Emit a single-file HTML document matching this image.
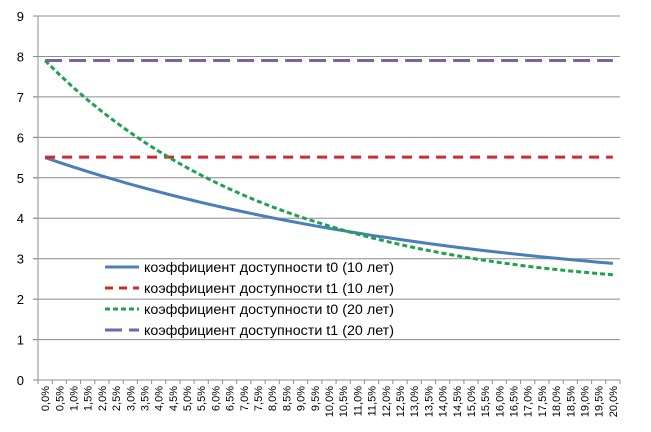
<!DOCTYPE html>
<html><head><meta charset="utf-8"><style>
html,body{margin:0;padding:0;background:#fff;}
svg{display:block;font-family:"Liberation Sans",sans-serif;}
</style></head><body>
<svg id="c" width="651" height="432" viewBox="0 0 651 432" xmlns="http://www.w3.org/2000/svg"></svg>
<script>
var s=document.getElementById('c'),h='';
var X0=38,X1=620,Y0=380,U=40.44,n=41,w=(X1-X0)/n;
function y(v){return Y0-v*U;}
for(var i=0;i<=9;i++){var yy=y(i).toFixed(1);
 h+='<line x1="'+(i==0?X0:33)+'" x2="'+X1+'" y1="'+yy+'" y2="'+yy+'" stroke="#8c8c8c" stroke-width="1"/>';
 h+='<line x1="33" x2="'+X0+'" y1="'+yy+'" y2="'+yy+'" stroke="#8c8c8c"/>';
 h+='<text x="24" y="'+(y(i)+5)+'" font-size="13" text-anchor="end" fill="#000">'+i+'</text>';}
h+='<line x1="'+X0+'" x2="'+X0+'" y1="'+y(9)+'" y2="'+Y0+'" stroke="#8c8c8c"/>';
for(var k=0;k<=n;k++){var xx=(X0+k*w).toFixed(1);h+='<line x1="'+xx+'" x2="'+xx+'" y1="'+Y0+'" y2="'+(Y0+4)+'" stroke="#8c8c8c"/>';}
for(var k=0;k<n;k++){var cx=X0+w/2+k*w+4,lab=(k*0.5).toFixed(1).replace('.',',')+'%';
 h+='<text transform="translate('+cx.toFixed(1)+',386) rotate(-90)" font-size="11" text-anchor="end" fill="#000">'+lab+'</text>';}
function path(f){var p='';for(var k=0;k<n;k++){var r=k*0.5;p+=(k?'L':'M')+(X0+w/2+k*w).toFixed(1)+','+y(f(r)).toFixed(1);}return p;}
var b=path(function(r){return 5.5*Math.exp(-0.0442*r+0.000595*r*r);});
var g=path(function(r){return 7.9*Math.exp(-0.0905*r+0.00175*r*r);});
var xa=X0+w/2,xb=X0+w/2+40*w;
h+='<path d="'+b+'" fill="none" stroke="#4a7ebb" stroke-width="3"/>';
h+='<line x1="'+xa+'" x2="'+xb+'" y1="'+y(5.51)+'" y2="'+y(5.51)+'" stroke="#d7262e" stroke-width="3" stroke-dasharray="10,7"/>';
h+='<path d="'+g+'" fill="none" stroke="#1fa24f" stroke-width="3" stroke-dasharray="5,3"/>';
h+='<line x1="'+xa+'" x2="'+xb+'" y1="'+y(7.9)+'" y2="'+y(7.9)+'" stroke="#7b63a3" stroke-width="3" stroke-dasharray="17,7"/>';
var L=[["#4a7ebb","none","коэффициент доступности t0 (10 лет)"],["#d7262e","8,6","коэффициент доступности t1 (10 лет)"],["#1fa24f","5,3","коэффициент доступности t0 (20 лет)"],["#7b63a3","17,7","коэффициент доступности t1 (20 лет)"]];
var ry=[267,288,309,330];
for(var i=0;i<4;i++){h+='<line x1="105" x2="139" y1="'+ry[i]+'" y2="'+ry[i]+'" stroke="'+L[i][0]+'" stroke-width="3"'+(L[i][1]!='none'?' stroke-dasharray="'+L[i][1]+'"':'')+'/>';
 h+='<text x="144" y="'+(ry[i]+5)+'" font-size="13.5" textLength="250" lengthAdjust="spacingAndGlyphs" fill="#000">'+L[i][2]+'</text>';}
s.innerHTML=h;
</script>
</body></html>
